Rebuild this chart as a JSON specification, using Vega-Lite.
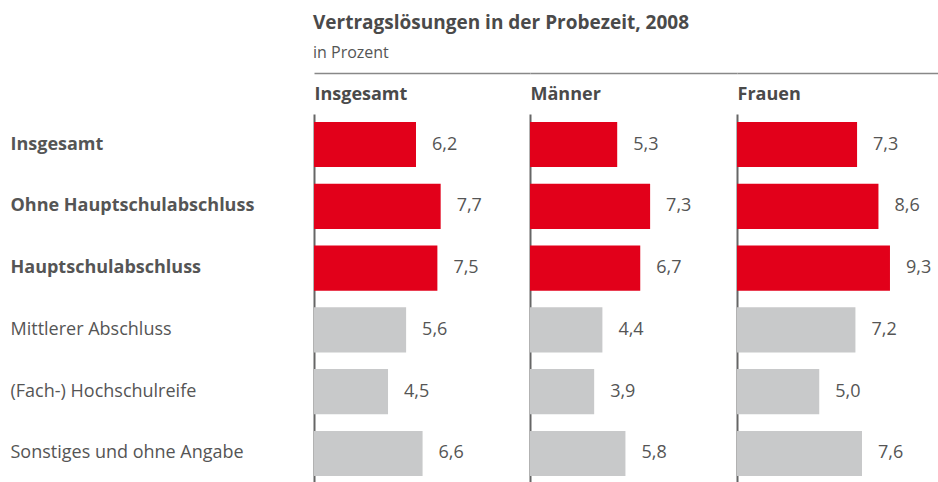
{
  "$schema": "https://vega.github.io/schema/vega-lite/v6.json",
  "padding": {"left": 10, "top": 14, "right": 0, "bottom": 0},
  "background": "white",
  "config": {
    "font": "Open Sans",
    "view": {"stroke": null},
    "concat": {"spacing": 0},
    "locale": {"number": {"decimal": ",", "thousands": ".", "grouping": [3], "currency": ["", " €"]}}
  },
  "title": {
    "text": "Vertragslösungen in der Probezeit, 2008",
    "subtitle": "in Prozent",
    "anchor": "start",
    "frame": "bounds",
    "dx": 303,
    "fontSize": 19,
    "fontWeight": "bold",
    "color": "#4a4a4a",
    "subtitleFontSize": 16,
    "subtitleColor": "#555555",
    "subtitlePadding": 12,
    "offset": 12
  },
  "data": {
    "values": [
      {"gruppe": "Insgesamt", "abschluss": "Insgesamt", "wert": 6.2},
      {"gruppe": "Insgesamt", "abschluss": "Ohne Hauptschulabschluss", "wert": 7.7},
      {"gruppe": "Insgesamt", "abschluss": "Hauptschulabschluss", "wert": 7.5},
      {"gruppe": "Insgesamt", "abschluss": "Mittlerer Abschluss", "wert": 5.6},
      {"gruppe": "Insgesamt", "abschluss": "(Fach-) Hochschulreife", "wert": 4.5},
      {"gruppe": "Insgesamt", "abschluss": "Sonstiges und ohne Angabe", "wert": 6.6},
      {"gruppe": "Männer", "abschluss": "Insgesamt", "wert": 5.3},
      {"gruppe": "Männer", "abschluss": "Ohne Hauptschulabschluss", "wert": 7.3},
      {"gruppe": "Männer", "abschluss": "Hauptschulabschluss", "wert": 6.7},
      {"gruppe": "Männer", "abschluss": "Mittlerer Abschluss", "wert": 4.4},
      {"gruppe": "Männer", "abschluss": "(Fach-) Hochschulreife", "wert": 3.9},
      {"gruppe": "Männer", "abschluss": "Sonstiges und ohne Angabe", "wert": 5.8},
      {"gruppe": "Frauen", "abschluss": "Insgesamt", "wert": 7.3},
      {"gruppe": "Frauen", "abschluss": "Ohne Hauptschulabschluss", "wert": 8.6},
      {"gruppe": "Frauen", "abschluss": "Hauptschulabschluss", "wert": 9.3},
      {"gruppe": "Frauen", "abschluss": "Mittlerer Abschluss", "wert": 7.2},
      {"gruppe": "Frauen", "abschluss": "(Fach-) Hochschulreife", "wert": 5.0},
      {"gruppe": "Frauen", "abschluss": "Sonstiges und ohne Angabe", "wert": 7.6}
    ]
  },
  "hconcat": [
    {
      "width": 216,
      "height": 370,
      "transform": [{"filter": "datum.gruppe === 'Insgesamt'"}],
      "encoding": {
        "y": {
          "field": "abschluss", "type": "nominal", "sort": null,
          "scale": {"paddingInner": 0.27, "paddingOuter": 0.13},
          "axis": {
            "title": null, "ticks": false, "domain": true, "domainColor": "#666666", "domainWidth": 2,
            "labelAlign": "left", "labelPadding": 304, "labelLimit": 400, "labelFontSize": 18,
            "labelColor": "#555555",
            "labelFontWeight": {"condition": {"test": "indexof(['Insgesamt','Ohne Hauptschulabschluss','Hauptschulabschluss'], datum.value) >= 0", "value": "bold"}, "value": "normal"}
          }
        },
        "x": {
          "field": "wert", "type": "quantitative",
          "scale": {"domain": [0, 13.13]},
          "axis": {
            "orient": "top", "offset": 41, "domainColor": "#888888", "domainWidth": 1.5,
            "ticks": false, "labels": false, "grid": false,
            "title": "Insgesamt", "titleAnchor": "start", "titleAlign": "left", "titleX": 0, "titleY": 26,
            "titleBaseline": "alphabetic", "titleFontSize": 18, "titleFontWeight": "bold", "titleColor": "#4a4a4a"
          }
        }
      },
      "layer": [
        {"mark": {"type": "bar"}, "encoding": {"color": {"condition": {"test": "indexof(['Insgesamt','Ohne Hauptschulabschluss','Hauptschulabschluss'], datum.abschluss) >= 0", "value": "#e2001a"}, "value": "#c8c9ca"}}},
        {"mark": {"type": "text", "align": "left", "dx": 16, "fontSize": 18, "color": "#555555"}, "encoding": {"text": {"field": "wert", "type": "quantitative", "format": ".1f"}}}
      ]
    },
    {
      "width": 207,
      "height": 370,
      "transform": [{"filter": "datum.gruppe === 'Männer'"}],
      "encoding": {
        "y": {
          "field": "abschluss", "type": "nominal", "sort": null,
          "scale": {"paddingInner": 0.27, "paddingOuter": 0.13},
          "axis": {"title": null, "ticks": false, "labels": false, "domain": true, "domainColor": "#666666", "domainWidth": 2}
        },
        "x": {
          "field": "wert", "type": "quantitative",
          "scale": {"domain": [0, 12.58]},
          "axis": {
            "orient": "top", "offset": 41, "domainColor": "#888888", "domainWidth": 1.5,
            "ticks": false, "labels": false, "grid": false,
            "title": "Männer", "titleAnchor": "start", "titleAlign": "left", "titleX": 0, "titleY": 26,
            "titleBaseline": "alphabetic", "titleFontSize": 18, "titleFontWeight": "bold", "titleColor": "#4a4a4a"
          }
        }
      },
      "layer": [
        {"mark": {"type": "bar"}, "encoding": {"color": {"condition": {"test": "indexof(['Insgesamt','Ohne Hauptschulabschluss','Hauptschulabschluss'], datum.abschluss) >= 0", "value": "#e2001a"}, "value": "#c8c9ca"}}},
        {"mark": {"type": "text", "align": "left", "dx": 16, "fontSize": 18, "color": "#555555"}, "encoding": {"text": {"field": "wert", "type": "quantitative", "format": ".1f"}}}
      ]
    },
    {
      "width": 201,
      "height": 370,
      "transform": [{"filter": "datum.gruppe === 'Frauen'"}],
      "encoding": {
        "y": {
          "field": "abschluss", "type": "nominal", "sort": null,
          "scale": {"paddingInner": 0.27, "paddingOuter": 0.13},
          "axis": {"title": null, "ticks": false, "labels": false, "domain": true, "domainColor": "#666666", "domainWidth": 2}
        },
        "x": {
          "field": "wert", "type": "quantitative",
          "scale": {"domain": [0, 12.22]},
          "axis": {
            "orient": "top", "offset": 41, "domainColor": "#888888", "domainWidth": 1.5,
            "ticks": false, "labels": false, "grid": false,
            "title": "Frauen", "titleAnchor": "start", "titleAlign": "left", "titleX": 0, "titleY": 26,
            "titleBaseline": "alphabetic", "titleFontSize": 18, "titleFontWeight": "bold", "titleColor": "#4a4a4a"
          }
        }
      },
      "layer": [
        {"mark": {"type": "bar"}, "encoding": {"color": {"condition": {"test": "indexof(['Insgesamt','Ohne Hauptschulabschluss','Hauptschulabschluss'], datum.abschluss) >= 0", "value": "#e2001a"}, "value": "#c8c9ca"}}},
        {"mark": {"type": "text", "align": "left", "dx": 16, "fontSize": 18, "color": "#555555"}, "encoding": {"text": {"field": "wert", "type": "quantitative", "format": ".1f"}}}
      ]
    }
  ]
}
